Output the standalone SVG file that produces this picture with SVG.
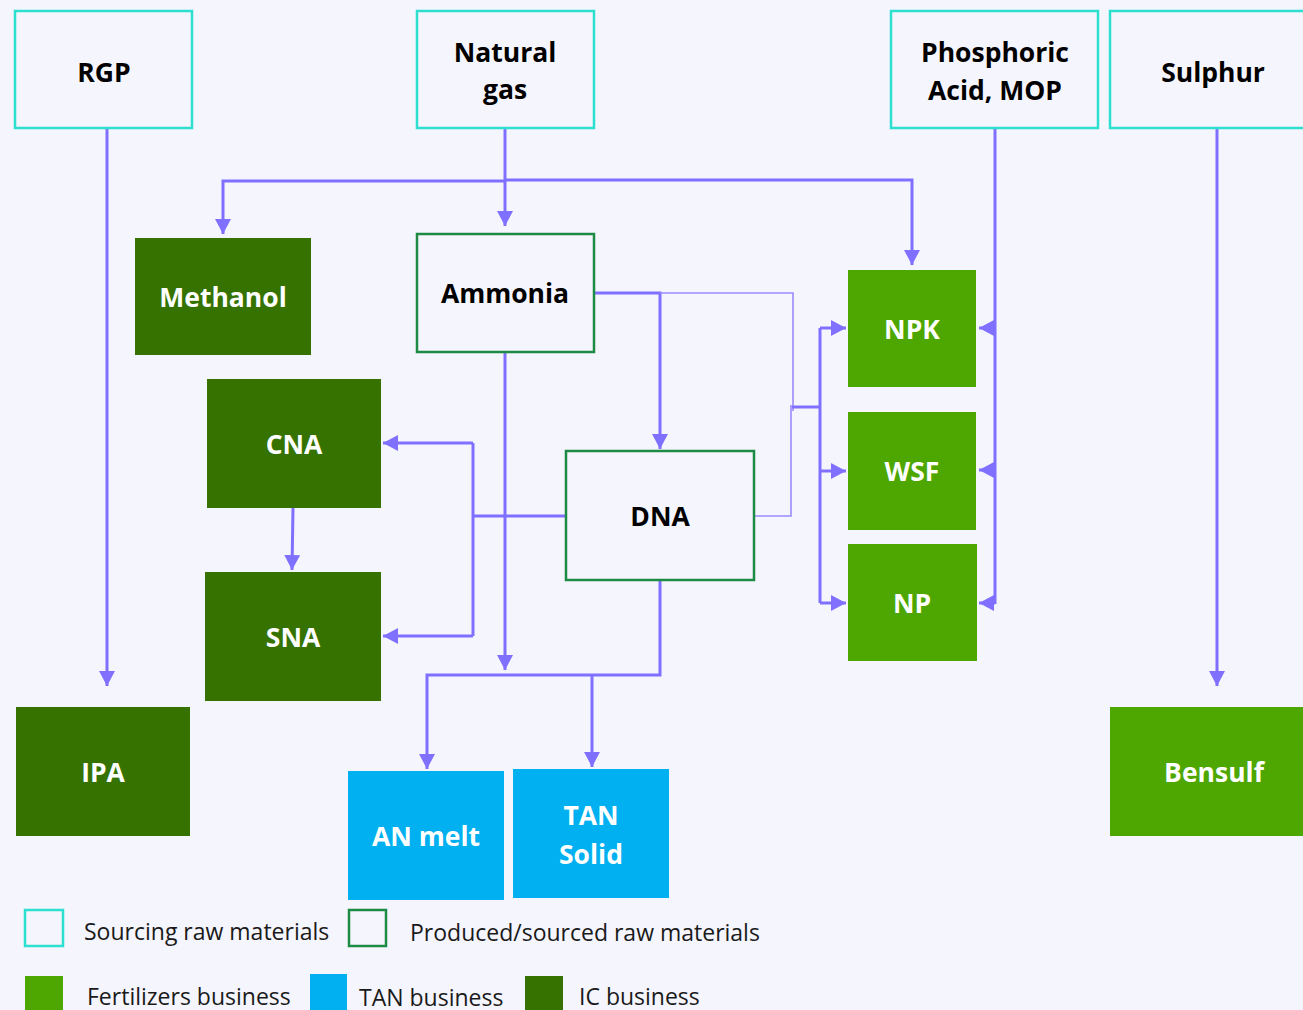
<svg xmlns="http://www.w3.org/2000/svg" width="1303" height="1010" viewBox="0 0 1303 1010">
<defs>
<style>
.src{fill:#F5F5FD;stroke:#2CDFCF;stroke-width:2.5}
.prod{fill:#F5F5FD;stroke:#1E8B45;stroke-width:2.5}
.ic{fill:#367200}
.fert{fill:#4EA700}
.tan{fill:#00B0F0}
.t{font-family:"Open Sans","Liberation Sans",sans-serif;font-weight:bold;font-size:26.5px;text-anchor:middle}
.dk{fill:#000}
.wh{fill:#fff}
.c{fill:none;stroke:#8070FF;stroke-width:3}
.thin{fill:none;stroke:#9A8CFF;stroke-width:1.6}
.lg{font-family:"Open Sans","Liberation Sans",sans-serif;font-size:23px;fill:#1a1a1a}
</style>
<marker id="ah" markerUnits="userSpaceOnUse" markerWidth="16" markerHeight="16" refX="15" refY="8" orient="auto" viewBox="0 0 16 16">
<path d="M0,0 L15,8 L0,16 z" fill="#8070FF"/>
</marker>
</defs>
<rect width="1303" height="1010" fill="#F5F5FD"/>

<g id="connectors">
<path class="c" d="M107,128 V686" marker-end="url(#ah)"/>
<path class="c" d="M505,128 V226" marker-end="url(#ah)"/>
<path class="c" d="M505,181 H223 V234" marker-end="url(#ah)"/>
<path class="c" d="M505,180 H912 V265" marker-end="url(#ah)"/>
<path class="c" d="M995,128 V604"/>
<path class="c" d="M995,328 H979" marker-end="url(#ah)"/>
<path class="c" d="M995,470 H979" marker-end="url(#ah)"/>
<path class="c" d="M995,603 H979" marker-end="url(#ah)"/>
<path class="c" d="M1217,128 V686" marker-end="url(#ah)"/>
<path class="c" d="M594,293 H660 V449" marker-end="url(#ah)"/>
<path class="thin" d="M660,293 H793 V411"/>
<path class="thin" d="M754,516 H791 V405"/>
<path class="c" d="M792,407 H820"/>
<path class="c" d="M820,328 V603"/>
<path class="c" d="M820,328 H846" marker-end="url(#ah)"/>
<path class="c" d="M820,471 H846" marker-end="url(#ah)"/>
<path class="c" d="M820,603 H846" marker-end="url(#ah)"/>
<path class="c" d="M505,352 V670" marker-end="url(#ah)"/>
<path class="c" d="M566,516 H473"/>
<path class="c" d="M473,443 V636"/>
<path class="c" d="M473,443 H383" marker-end="url(#ah)"/>
<path class="c" d="M473,636 H383" marker-end="url(#ah)"/>
<path class="c" d="M293,508 L292,570" marker-end="url(#ah)"/>
<path class="c" d="M660,580 V675 H427 V769" marker-end="url(#ah)"/>
<path class="c" d="M592,675 V767" marker-end="url(#ah)"/>
</g>

<g id="node-rgp"><rect class="src" x="15" y="11" width="177" height="117"/><text class="t dk" x="104" y="82">RGP</text></g>
<g id="node-natural-gas"><rect class="src" x="417" y="11" width="177" height="117"/><text class="t dk" x="505" y="62">Natural</text><text class="t dk" x="505" y="99">gas</text></g>
<g id="node-phosphoric"><rect class="src" x="891" y="11" width="207" height="117"/><text class="t dk" x="995" y="62">Phosphoric</text><text class="t dk" x="995" y="100">Acid, MOP</text></g>
<g id="node-sulphur"><rect class="src" x="1110" y="11" width="200" height="117"/><text class="t dk" x="1213" y="82">Sulphur</text></g>

<g id="node-methanol"><rect class="ic" x="135" y="238" width="176" height="117"/><text class="t wh" x="223" y="307">Methanol</text></g>
<g id="node-ammonia"><rect class="prod" x="417" y="234" width="177" height="118"/><text class="t dk" x="505" y="303">Ammonia</text></g>
<g id="node-cna"><rect class="ic" x="207" y="379" width="174" height="129"/><text class="t wh" x="294" y="454">CNA</text></g>
<g id="node-sna"><rect class="ic" x="205" y="572" width="176" height="129"/><text class="t wh" x="293" y="647">SNA</text></g>
<g id="node-ipa"><rect class="ic" x="16" y="707" width="174" height="129"/><text class="t wh" x="103" y="782">IPA</text></g>
<g id="node-dna"><rect class="prod" x="566" y="451" width="188" height="129"/><text class="t dk" x="660" y="526">DNA</text></g>
<g id="node-npk"><rect class="fert" x="848" y="270" width="128" height="117"/><text class="t wh" x="912" y="339">NPK</text></g>
<g id="node-wsf"><rect class="fert" x="848" y="412" width="128" height="118"/><text class="t wh" x="912" y="481">WSF</text></g>
<g id="node-np"><rect class="fert" x="848" y="544" width="129" height="117"/><text class="t wh" x="912" y="613">NP</text></g>
<g id="node-bensulf"><rect class="fert" x="1110" y="707" width="200" height="129"/><text class="t wh" x="1214" y="782">Bensulf</text></g>
<g id="node-an-melt"><rect class="tan" x="348" y="771" width="156" height="129"/><text class="t wh" x="426" y="846">AN melt</text></g>
<g id="node-tan-solid"><rect class="tan" x="513" y="769" width="156" height="129"/><text class="t wh" x="591" y="825">TAN</text><text class="t wh" x="591" y="864">Solid</text></g>

<g id="legend">
<rect class="src" x="25" y="910" width="38" height="36"/>
<text class="lg" x="84" y="940">Sourcing raw materials</text>
<rect class="prod" x="349" y="910" width="37" height="36"/>
<text class="lg" x="410" y="941">Produced/sourced raw materials</text>
<rect class="fert" x="25" y="976" width="38" height="40"/>
<text class="lg" x="87" y="1005">Fertilizers business</text>
<rect class="tan" x="310" y="974" width="37" height="40"/>
<text class="lg" x="359" y="1006">TAN business</text>
<rect class="ic" x="525" y="976" width="38" height="40"/>
<text class="lg" x="579" y="1005">IC business</text>
</g>
</svg>
